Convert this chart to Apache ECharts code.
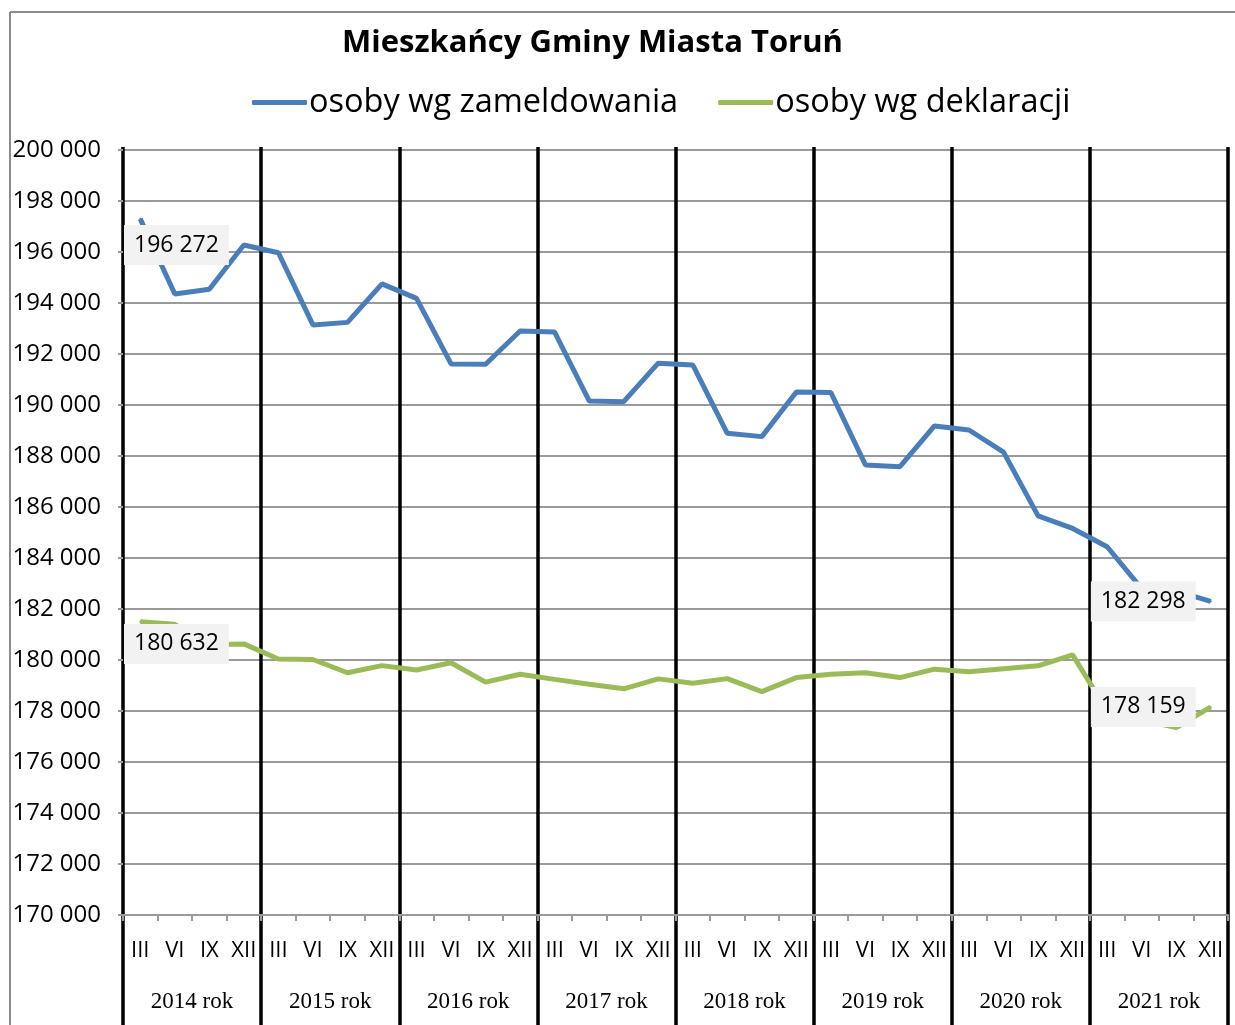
<!DOCTYPE html>
<html>
<head>
<meta charset="utf-8">
<script src="https://cdn.jsdelivr.net/npm/echarts@6.0.0/dist/echarts.min.js"></script>
<style>
  html, body { margin: 0; padding: 0; background: #fff; }
  #chart { width: 1235px; height: 1025px; }
</style>
</head>
<body>
<div id="chart"></div>
<script>
// --- Data ---
const years = ['2014 rok', '2015 rok', '2016 rok', '2017 rok', '2018 rok', '2019 rok', '2020 rok', '2021 rok'];
const quarters = ['III', 'VI', 'IX', 'XII'];
const categories = years.flatMap(y => quarters.map(q => y + '|' + q));

const zameldowania = [
    197300, 194350, 194540, 196272,
    195970, 193140, 193240, 194750,
    194180, 191610, 191600, 192900,
    192860, 190160, 190130, 191640,
    191570, 188890, 188760, 190510,
    190490, 187650, 187580, 189180,
    189020, 188150, 185650, 185160,
    184440, 182800, 182700, 182298
];
const deklaracji = [
    181500, 181400, 180600, 180632,
    180040, 180020, 179500, 179780,
    179610, 179890, 179130, 179440,
    179240, 179050, 178870, 179260,
    179090, 179270, 178760, 179310,
    179440, 179500, 179310, 179640,
    179540, 179660, 179770, 180200,
    178000, 177650, 177350, 178159
];
// points that carry a value label
const labelledPoints = [3, 31];

const fmt = v => String(v).replace(/\B(?=(\d{3})+(?!\d))/g, ' ');

const withLabels = (values) => values.map((v, i) => labelledPoints.includes(i)
    ? { value: v, label: { show: true } }
    : v);

const chart = echarts.init(document.getElementById('chart'));

const labelStyle = {
    show: false,
    position: 'left',
    distance: 14,
    formatter: p => fmt(p.value),
    backgroundColor: '#f2f2f2',
    padding: [9, 10, 8, 10],
    color: '#000',
    fontFamily: 'Open Sans',
    fontSize: 23
};

const option = {
    animation: false,
    backgroundColor: '#fff',
    title: {
        text: 'Mieszkańcy Gminy Miasta Toruń',
        left: 337,
        top: 23,
        textStyle: { fontFamily: 'Open Sans', fontWeight: 'bold', fontSize: 31, color: '#000' }
    },
    legend: {
        left: 247,
        top: 81,
        itemGap: 40,
        itemWidth: 55,
        itemHeight: 5,
        icon: 'roundRect',
        textStyle: { fontFamily: 'Open Sans', fontSize: 32.5, color: '#000', padding: [0, 0, 0, -3] },
        data: ['osoby wg zameldowania', 'osoby wg deklaracji']
    },
    graphic: [
        { type: 'line', shape: { x1: 10, y1: 12, x2: 10, y2: 1025 }, style: { stroke: '#8c8c8c', lineWidth: 2 } },
        { type: 'line', shape: { x1: 10, y1: 12, x2: 1235, y2: 12 }, style: { stroke: '#8c8c8c', lineWidth: 2 } }
    ],
    grid: [
        { left: 123, right: 7, top: 150, bottom: 110 },
        { left: 123, right: 7, top: 147, bottom: 0 }
    ],
    xAxis: [
        {
            type: 'category',
            gridIndex: 0,
            data: categories,
            boundaryGap: true,
            axisLine: { lineStyle: { color: '#9a9a9a', width: 2 } },
            axisTick: { show: true, length: 6, lineStyle: { color: '#9a9a9a', width: 2 } },
            axisLabel: {
                interval: 0,
                margin: 25,
                formatter: v => v.split('|')[1],
                fontFamily: 'Open Sans',
                fontSize: 22,
                color: '#000'
            },
            splitLine: { show: false }
        },
        {
            type: 'category',
            gridIndex: 1,
            data: years,
            boundaryGap: true,
            position: 'bottom',
            axisLine: { show: false },
            axisTick: { show: false },
            axisLabel: {
                inside: true,
                interval: 0,
                margin: 11,
                lineHeight: 24,
                fontFamily: 'Liberation Serif',
                fontSize: 23,
                color: '#000'
            },
            splitLine: { show: true, lineStyle: { color: '#000', width: 3.5 } }
        }
    ],
    yAxis: [
        {
            type: 'value',
            gridIndex: 0,
            min: 170000,
            max: 200000,
            interval: 2000,
            axisLine: { show: false },
            axisTick: { show: true, length: 5, lineStyle: { color: '#9a9a9a', width: 2 } },
            axisLabel: {
                margin: 22,
                formatter: v => fmt(v),
                fontFamily: 'Open Sans',
                fontSize: 24,
                color: '#000'
            },
            splitLine: { lineStyle: { color: '#9a9a9a', width: 2 } }
        },
        { type: 'value', gridIndex: 1, show: false }
    ],
    series: [
        {
            name: 'osoby wg zameldowania',
            type: 'line',
            xAxisIndex: 0,
            yAxisIndex: 0,
            data: withLabels(zameldowania),
            showSymbol: true,
            symbol: 'circle',
            symbolSize: 2,
            color: '#4a7ebb',
            lineStyle: { color: '#4a7ebb', width: 5 },
            label: labelStyle,
            z: 5
        },
        {
            name: 'osoby wg deklaracji',
            type: 'line',
            xAxisIndex: 0,
            yAxisIndex: 0,
            data: withLabels(deklaracji),
            showSymbol: true,
            symbol: 'circle',
            symbolSize: 2,
            color: '#9bbb59',
            lineStyle: { color: '#9bbb59', width: 5 },
            label: labelStyle,
            z: 5
        }
    ]
};

chart.setOption(option);
</script>
</body>
</html>
